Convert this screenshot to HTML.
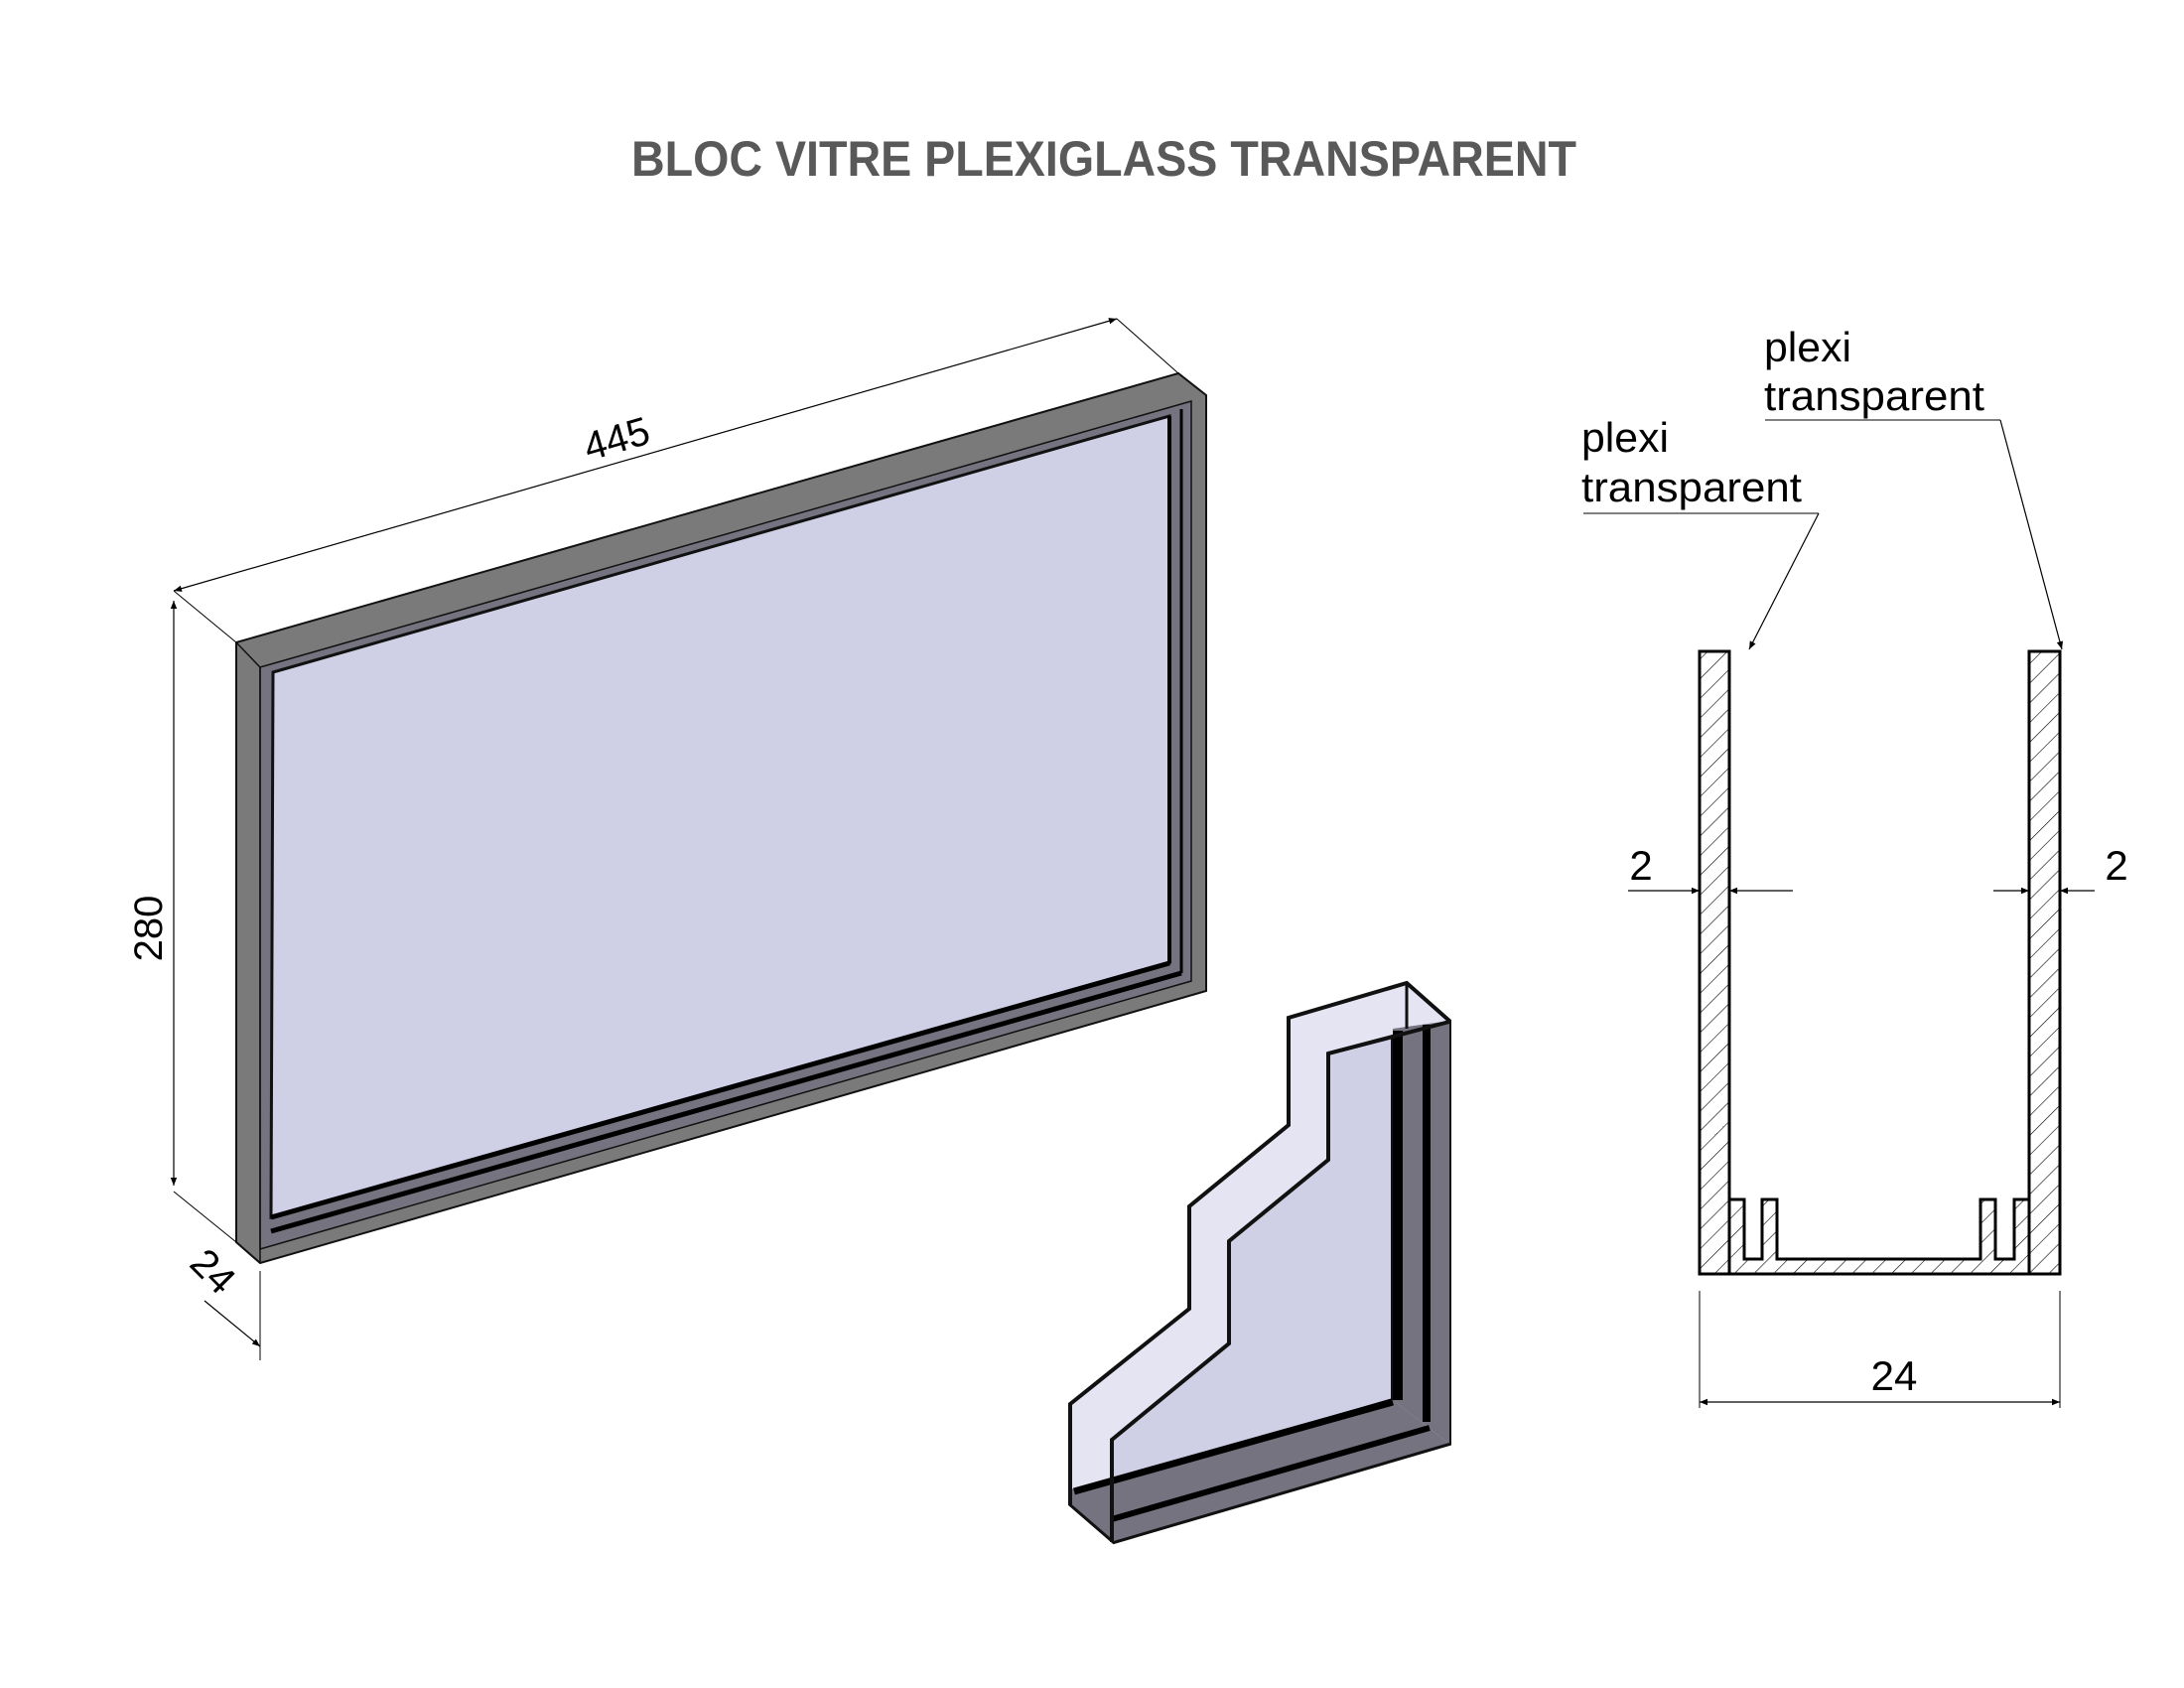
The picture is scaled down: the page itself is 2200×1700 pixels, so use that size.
<!DOCTYPE html>
<html><head><meta charset="utf-8"><style>html,body{margin:0;padding:0;background:#fff}svg{display:block}</style></head>
<body>
<svg width="2200" height="1700" viewBox="0 0 2200 1700" xmlns="http://www.w3.org/2000/svg" font-family="Liberation Sans, sans-serif">
<defs>
<pattern id="h" width="14" height="14" patternUnits="userSpaceOnUse" patternTransform="rotate(45)">
<line x1="0" y1="0" x2="0" y2="14" stroke="#000" stroke-width="1.2"/>
</pattern>
<marker id="a" viewBox="0 0 10 10" refX="10" refY="5" markerWidth="14" markerHeight="8" markerUnits="userSpaceOnUse" orient="auto-start-reverse"><path d="M0,1 L10,5 L0,9 z" fill="#000"/></marker>
</defs>

<text x="1112" y="177" text-anchor="middle" font-size="50" font-weight="bold" fill="#595959" textLength="952" lengthAdjust="spacingAndGlyphs">BLOC VITRE PLEXIGLASS TRANSPARENT</text>

<!-- big frame -->
<polygon points="238,647 1187,376 1215,398 1215,998 262,1272 238,1251" fill="#7a7a7a" stroke="#111" stroke-width="2"/>
<polygon points="262,672 1200,404 1200,988 262,1258" fill="#74737f" stroke="#111" stroke-width="1.5"/>
<polygon points="275,677 1178,419 1178,970 273,1226" fill="#cfd0e6" stroke="#111" stroke-width="3"/>
<line x1="273" y1="1226" x2="1178" y2="970" stroke="#000" stroke-width="5"/>
<line x1="273" y1="1240" x2="1190" y2="980" stroke="#000" stroke-width="5"/>
<line x1="1178" y1="419" x2="1178" y2="970" stroke="#000" stroke-width="4"/>
<line x1="1190" y1="412" x2="1190" y2="980" stroke="#000" stroke-width="3"/>
<line x1="238" y1="647" x2="262" y2="672" stroke="#111" stroke-width="1.5"/>
<line x1="262" y1="672" x2="262" y2="1272" stroke="#111" stroke-width="1.5"/>

<!-- 445 dim -->
<line x1="238" y1="647" x2="175" y2="595" stroke="#000" stroke-width="1"/>
<line x1="1187" y1="376" x2="1125" y2="321" stroke="#000" stroke-width="1"/>
<line x1="175" y1="595" x2="1125" y2="321" stroke="#000" stroke-width="1.2" marker-start="url(#a)" marker-end="url(#a)"/>
<text x="625" y="455" font-size="40" text-anchor="middle" transform="rotate(-16.1 625 455)">445</text>
<!-- 280 dim -->
<line x1="238" y1="1251" x2="175" y2="1200" stroke="#000" stroke-width="1"/>
<line x1="175" y1="605" x2="175" y2="1194" stroke="#000" stroke-width="1.2" marker-start="url(#a)" marker-end="url(#a)"/>
<text x="163" y="935" font-size="40" text-anchor="middle" transform="rotate(-90 163 935)">280</text>
<!-- 24 dim -->
<line x1="262" y1="1280" x2="262" y2="1370" stroke="#000" stroke-width="1"/>
<line x1="206" y1="1310" x2="262" y2="1356" stroke="#000" stroke-width="1.2" marker-end="url(#a)"/>
<text x="205" y="1290" font-size="40" text-anchor="middle" transform="rotate(45 205 1290)">24</text>

<!-- small piece -->
<polygon points="1078,1414 1198,1318 1198,1215 1298,1133 1298,1025 1417,990 1460,1028 1460,1454 1122,1553 1078,1515" fill="#e4e4f2" stroke="#111" stroke-width="4"/>
<polygon points="1120,1450 1238,1353 1238,1250 1338,1168 1338,1061 1403,1044 1403,1410 1120,1492" fill="#cfd0e6" stroke="#111" stroke-width="4"/>
<polygon points="1403,1036 1460,1028 1460,1454 1403,1410" fill="#74737f"/>
<rect x="1403" y="1038" width="10" height="372" fill="#000"/>
<rect x="1433" y="1032" width="8" height="400" fill="#000"/>
<polygon points="1078,1500 1403,1410 1460,1454 1122,1553 1078,1515" fill="#74737f"/>
<line x1="1082" y1="1502" x2="1403" y2="1412" stroke="#000" stroke-width="7"/>
<line x1="1120" y1="1530" x2="1440" y2="1438" stroke="#000" stroke-width="6"/>
<line x1="1122" y1="1553" x2="1460" y2="1454" stroke="#111" stroke-width="2"/>
<line x1="1120" y1="1450" x2="1120" y2="1553" stroke="#111" stroke-width="4"/>
<line x1="1078" y1="1414" x2="1078" y2="1515" stroke="#111" stroke-width="4"/>
<line x1="1078" y1="1515" x2="1122" y2="1553" stroke="#111" stroke-width="2"/>
<line x1="1338" y1="1061" x2="1460" y2="1029" stroke="#111" stroke-width="4"/>
<line x1="1417" y1="990" x2="1417" y2="1036" stroke="#111" stroke-width="3"/>

<!-- section -->
<path d="M1712,656 L1742,656 L1742,1208 L1757,1208 L1757,1268 L1775,1268 L1775,1208 L1790,1208 L1790,1268 L1995,1268 L1995,1208 L2010,1208 L2010,1268 L2029,1268 L2029,1208 L2044,1208 L2044,656 L2075,656 L2075,1283 L1712,1283 Z" fill="url(#h)" stroke="#000" stroke-width="3"/>
<line x1="1742" y1="1208" x2="1742" y2="1283" stroke="#000" stroke-width="3"/>
<line x1="2044" y1="1208" x2="2044" y2="1283" stroke="#000" stroke-width="3"/>
<!-- 24 -->
<line x1="1712" y1="1300" x2="1712" y2="1418" stroke="#000" stroke-width="1"/>
<line x1="2075" y1="1300" x2="2075" y2="1418" stroke="#000" stroke-width="1"/>
<line x1="1712" y1="1412" x2="2075" y2="1412" stroke="#000" stroke-width="1.2" marker-start="url(#a)" marker-end="url(#a)"/>
<text x="1908" y="1400" font-size="42" text-anchor="middle">24</text>
<!-- 2 dims -->
<line x1="1640" y1="897" x2="1712" y2="897" stroke="#000" stroke-width="1.2" marker-end="url(#a)"/>
<line x1="1806" y1="897" x2="1742" y2="897" stroke="#000" stroke-width="1.2" marker-end="url(#a)"/>
<text x="1653" y="886" font-size="42" text-anchor="middle">2</text>
<line x1="2008" y1="897" x2="2044" y2="897" stroke="#000" stroke-width="1.2" marker-end="url(#a)"/>
<line x1="2110" y1="897" x2="2075" y2="897" stroke="#000" stroke-width="1.2" marker-end="url(#a)"/>
<text x="2132" y="886" font-size="42" text-anchor="middle">2</text>
<!-- labels -->
<text x="1593" y="455" font-size="42" textLength="88" lengthAdjust="spacingAndGlyphs">plexi</text>
<text x="1593" y="505" font-size="42" textLength="222" lengthAdjust="spacingAndGlyphs">transparent</text>
<line x1="1595" y1="517" x2="1832" y2="517" stroke="#000" stroke-width="1"/>
<line x1="1832" y1="517" x2="1762" y2="654" stroke="#000" stroke-width="1.2" marker-end="url(#a)"/>
<text x="1777" y="364" font-size="42" textLength="88" lengthAdjust="spacingAndGlyphs">plexi</text>
<text x="1777" y="413" font-size="42" textLength="222" lengthAdjust="spacingAndGlyphs">transparent</text>
<line x1="1778" y1="423" x2="2015" y2="423" stroke="#000" stroke-width="1"/>
<line x1="2015" y1="423" x2="2077" y2="654" stroke="#000" stroke-width="1.2" marker-end="url(#a)"/>
</svg>
</body></html>
